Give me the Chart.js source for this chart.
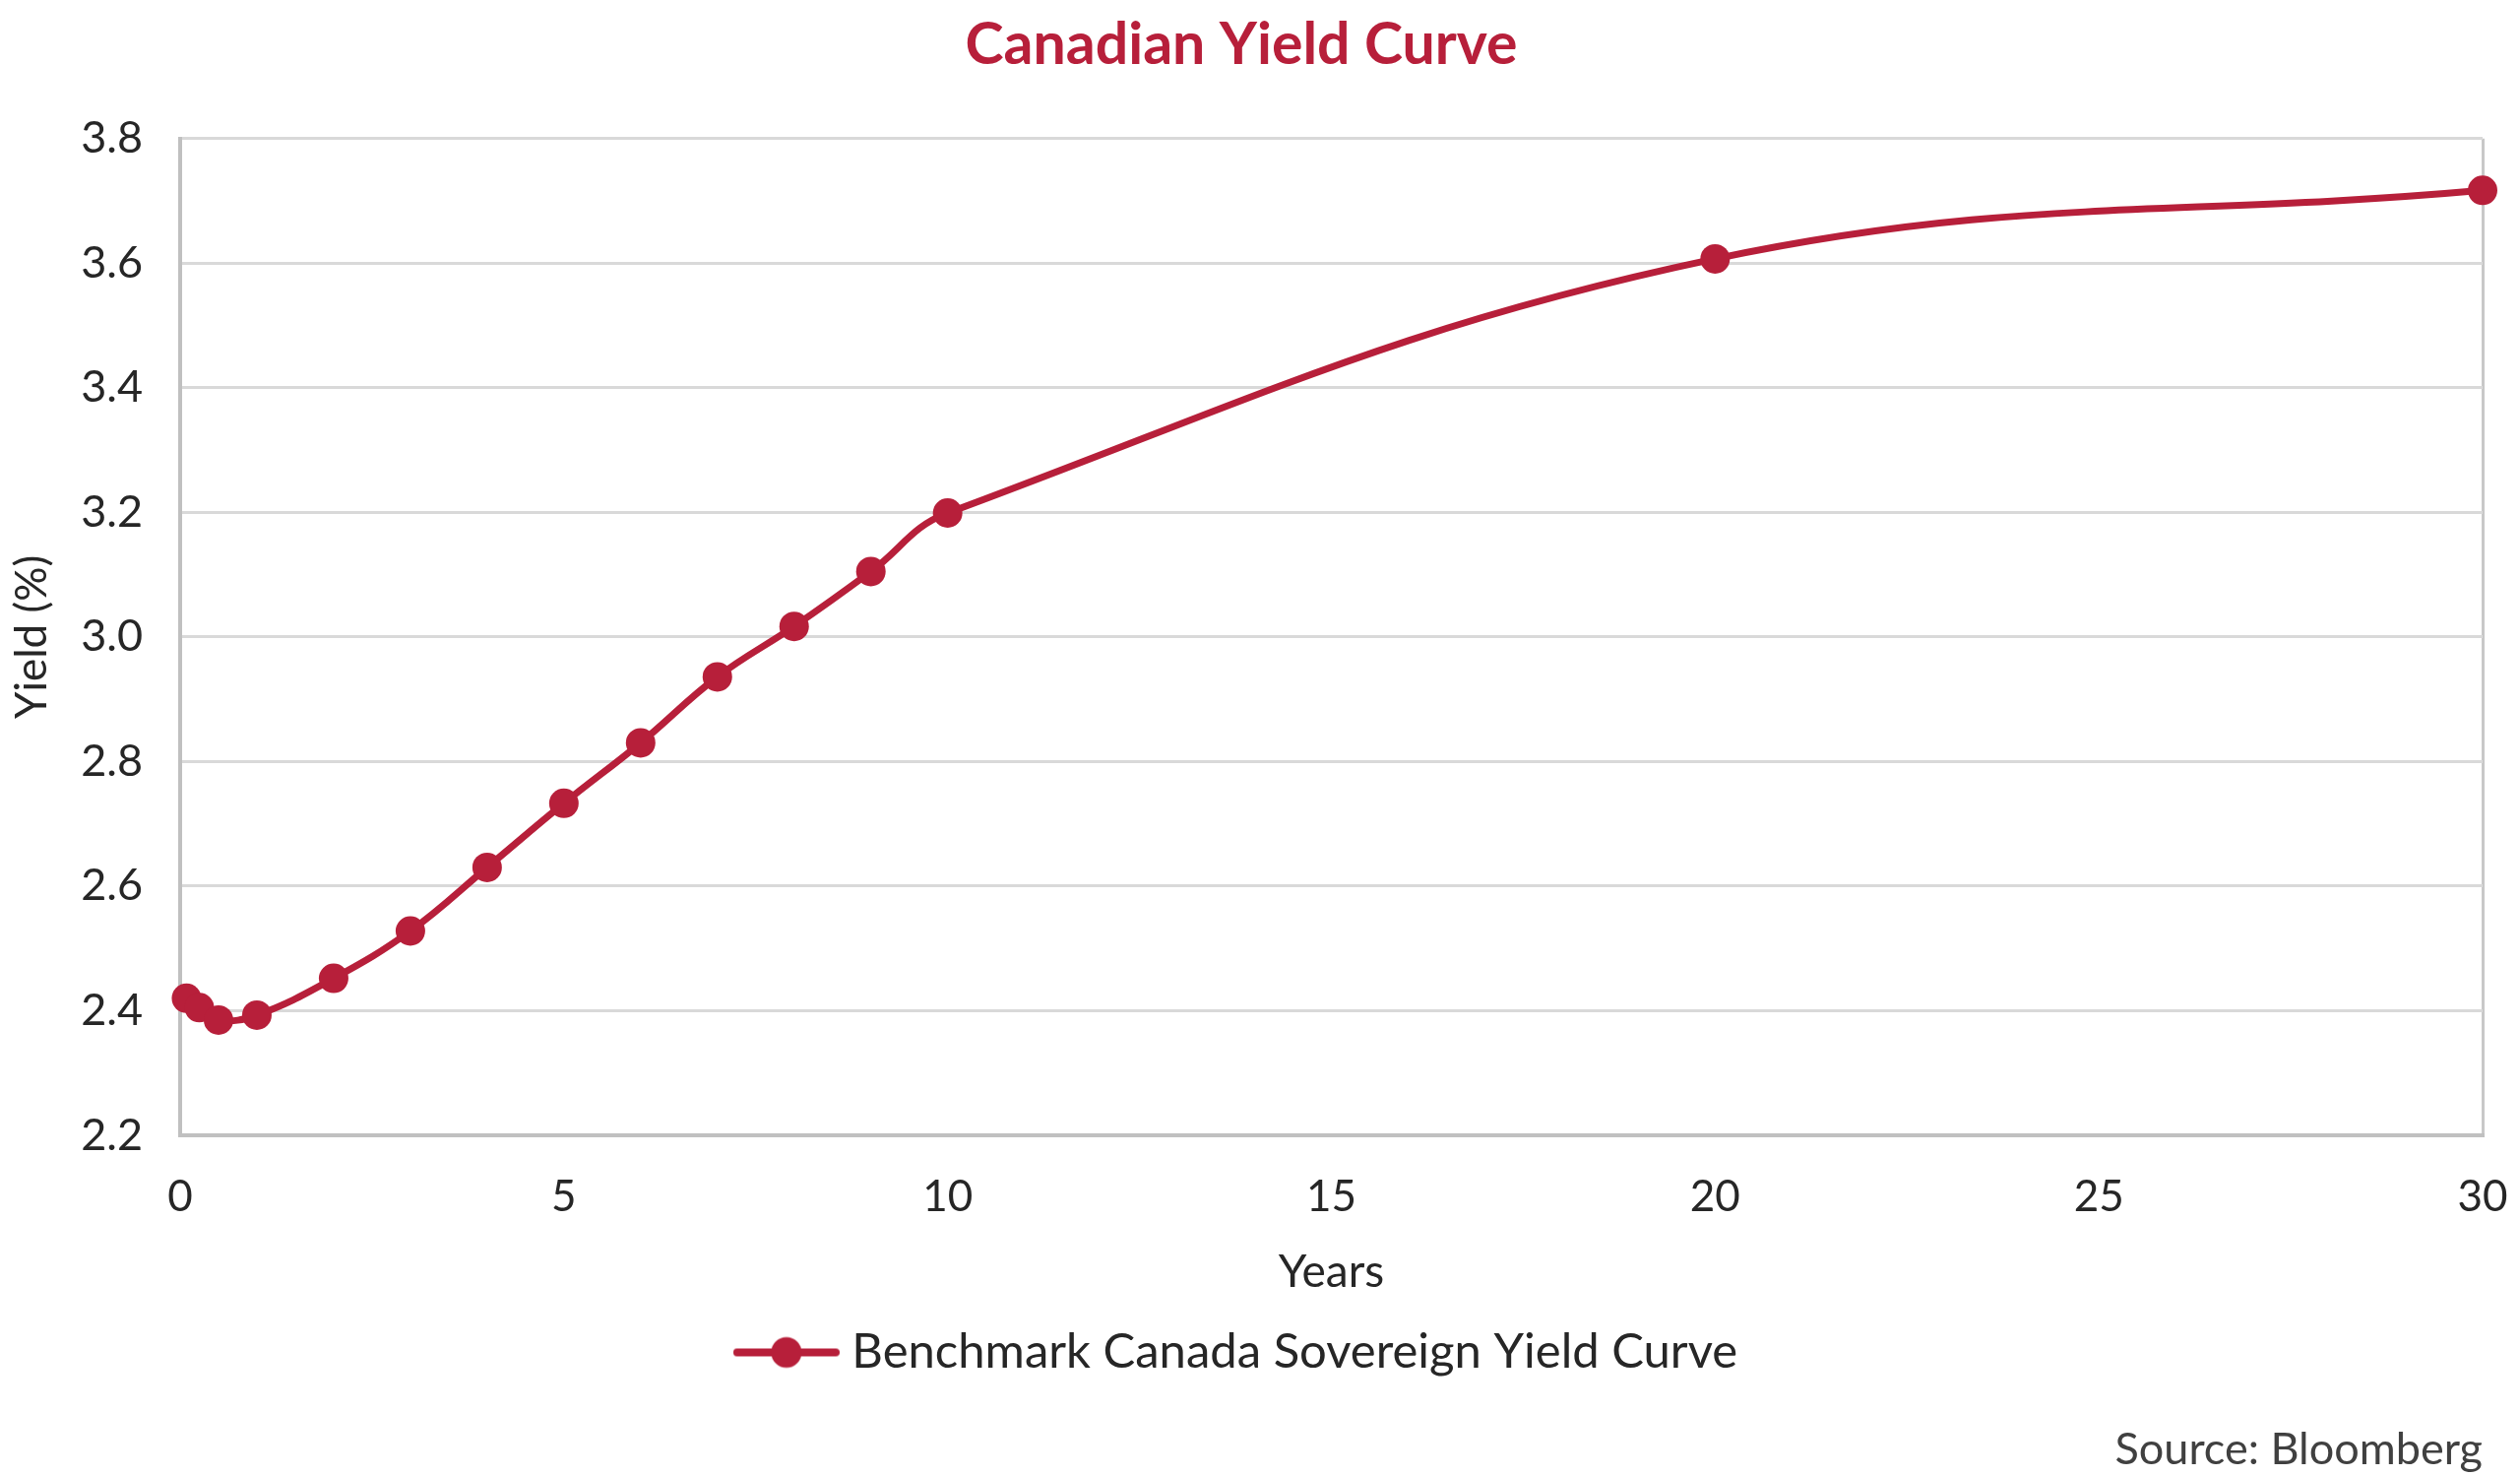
<!DOCTYPE html>
<html>
<head>
<meta charset="utf-8">
<script src="https://cdn.jsdelivr.net/npm/chart.js@4.4.1/dist/chart.umd.min.js"></script>
<style>
  html, body { margin: 0; padding: 0; background: #ffffff; }
  #wrap { width: 2560px; height: 1499px; position: relative; }
</style>
</head>
<body>
<div id="wrap"><canvas id="chart"></canvas></div>
<script>
// term to maturity (years) and yield (%)
var years = [0.083, 0.25, 0.5, 1, 2, 3, 4, 5, 6, 7, 8, 9, 10, 20, 30];
var yields = [2.42, 2.405, 2.385, 2.393, 2.452, 2.528, 2.63, 2.733, 2.83, 2.936, 3.017, 3.105, 3.199, 3.607, 3.717];
var xTicks = [0, 5, 10, 15, 20, 25, 30];
var yTicks = [2.2, 2.4, 2.6, 2.8, 3.0, 3.2, 3.4, 3.6, 3.8];

var red = '#b71f3a';
var textCol = '#262626';
var font = 'Lato, "Open Sans", sans-serif';

// legend marker: short line with a dot in the middle
function legendMarker() {
    var c = document.createElement('canvas');
    c.width = 108; c.height = 34;
    var g = c.getContext('2d');
    g.strokeStyle = red;
    g.lineWidth = 8;
    g.lineCap = 'round';
    g.beginPath();
    g.moveTo(4, 17); g.lineTo(104, 17);
    g.stroke();
    g.fillStyle = red;
    g.beginPath();
    g.arc(54, 17, 15.5, 0, Math.PI * 2);
    g.fill();
    return c;
}
var marker = legendMarker();

document.addEventListener("DOMContentLoaded", function() {
    var ctx = document.getElementById('chart').getContext('2d');
    new Chart(ctx, {
        type: 'line',
        data: {
            datasets: [{
                label: 'Benchmark Canada Sovereign Yield Curve',
                data: years.map(function(x, i) { return {x: x, y: yields[i]}; }),
                borderColor: red,
                backgroundColor: red,
                borderWidth: 7,
                pointRadius: 15,
                pointHoverRadius: 15,
                pointBackgroundColor: red,
                pointBorderWidth: 0,
                tension: 0.4,
                clip: false
            }]
        },
        options: {
            responsive: true,
            maintainAspectRatio: false,
            animation: false,
            devicePixelRatio: 1,
            layout: { padding: { left: 0, right: 38, top: 0, bottom: 0 } },
            plugins: {
                title: {
                    display: true,
                    text: 'Canadian Yield Curve',
                    color: red,
                    font: { family: font, size: 59, weight: 'bold' },
                    padding: { top: 11, bottom: 59 }
                },
                subtitle: {
                    display: true,
                    position: 'bottom',
                    align: 'end',
                    text: 'Source: Bloomberg',
                    color: '#404040',
                    font: { family: font, size: 45 },
                    padding: { top: 37, bottom: 0 }
                },
                legend: {
                    position: 'bottom',
                    labels: {
                        color: textCol,
                        font: { family: font, size: 49 },
                        usePointStyle: true,
                        pointStyleWidth: 84,
                        padding: 29,
                        generateLabels: function(chart) {
                            var items = Chart.defaults.plugins.legend.labels.generateLabels(chart);
                            items.forEach(function(it) { it.pointStyle = marker; });
                            return items;
                        }
                    }
                },
                tooltip: { enabled: false }
            },
            scales: {
                x: {
                    type: 'linear',
                    min: 0,
                    max: 30,
                    afterBuildTicks: function(scale) {
                        scale.ticks = xTicks.map(function(v) { return {value: v}; });
                    },
                    afterFit: function(scale) {
                        scale.height = 167;
                        scale.paddingLeft = 0;
                        scale.paddingRight = 0;
                    },
                    ticks: {
                        color: textCol,
                        font: { family: font, size: 44 },
                        padding: 36,
                        maxRotation: 0
                    },
                    grid: {
                        drawTicks: false,
                        lineWidth: 3,
                        color: function(c) { return c.tick && c.tick.value === 30 ? '#c8c8c8' : 'rgba(0,0,0,0)'; }
                    },
                    border: { display: true, color: '#c0c0c0', width: 4 },
                    title: {
                        display: true,
                        text: 'Years',
                        color: textCol,
                        font: { family: font, size: 46 },
                        padding: { top: 0, bottom: 0 }
                    }
                },
                y: {
                    min: 2.2,
                    max: 3.8,
                    afterBuildTicks: function(scale) {
                        scale.ticks = yTicks.map(function(v) { return {value: v}; });
                    },
                    afterFit: function(scale) { scale.width = 183; },
                    ticks: {
                        color: textCol,
                        font: { family: font, size: 45 },
                        padding: 38,
                        callback: function(v) { return Number(v).toFixed(1); }
                    },
                    grid: {
                        drawTicks: false,
                        lineWidth: 3,
                        color: '#d9d9d9'
                    },
                    border: { display: true, color: '#c0c0c0', width: 4 },
                    title: {
                        display: true,
                        text: 'Yield (%)',
                        color: textCol,
                        font: { family: font, size: 44 },
                        padding: { top: 6, bottom: 0 }
                    }
                }
            }
        }
    });
});
</script>
</body>
</html>
